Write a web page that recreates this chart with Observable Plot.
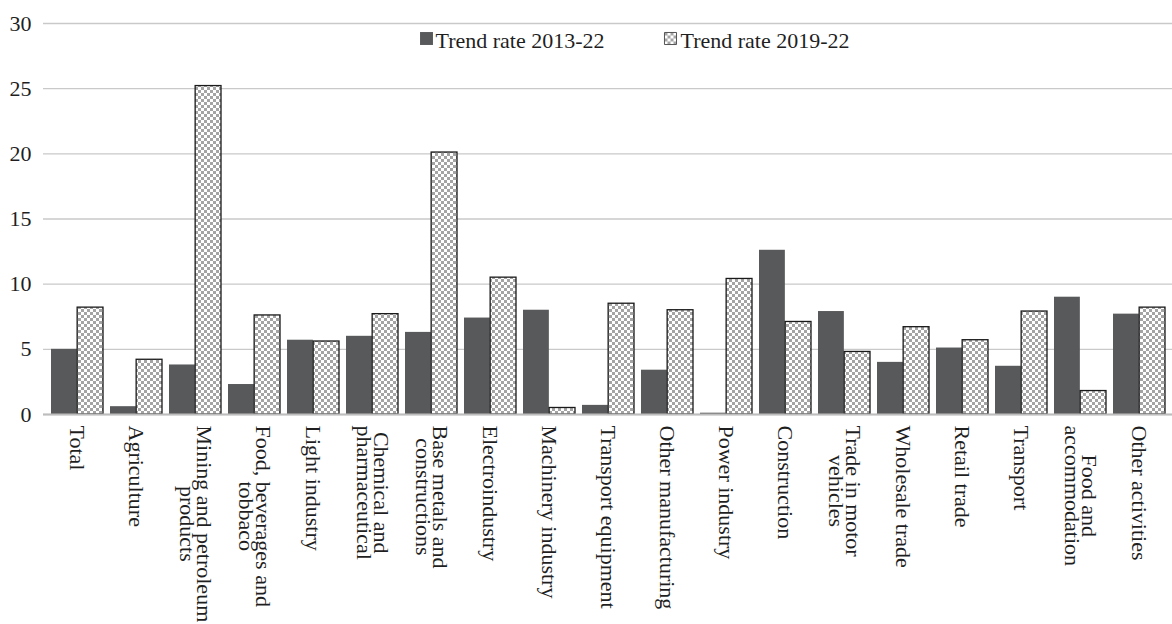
<!DOCTYPE html>
<html>
<head>
<meta charset="utf-8">
<script src="https://cdn.jsdelivr.net/npm/d3@7"></script>
<script src="https://cdn.jsdelivr.net/npm/@observablehq/plot@0.6"></script>
<style>
  html, body { margin: 0; padding: 0; background: #ffffff; }
  #chart { width: 1172px; height: 624px; }
</style>
</head>
<body>
<div id="chart"></div>
<script>
// Sectors, in display order
const categories = [
  "Total",
  "Agriculture",
  "Mining and petroleum\nproducts",
  "Food, beverages and\ntobbaco",
  "Light industry",
  "Chemical and\npharmaceutical",
  "Base metals and\nconstructions",
  "Electroindustry",
  "Machinery industry",
  "Transport equipment",
  "Other manufacturing",
  "Power industry",
  "Construction",
  "Trade in motor\nvehicles",
  "Wholesale trade",
  "Retail trade",
  "Transport",
  "Food and\naccommodation",
  "Other activities"
];

// Series names
const seriesNames = ["Trend rate 2013-22", "Trend rate 2019-22"];

// Trend rate 2013-22
const trend2013 = [5.0, 0.6, 3.8, 2.3, 5.7, 6.0, 6.3, 7.4, 8.0, 0.7, 3.4, 0.1, 12.6, 7.9, 4.0, 5.1, 3.7, 9.0, 7.7];

// Trend rate 2019-22
const trend2019 = [8.2, 4.2, 25.2, 7.6, 5.6, 7.7, 20.1, 10.5, 0.5, 8.5, 8.0, 10.4, 7.1, 4.8, 6.7, 5.7, 7.9, 1.8, 8.2];

// Y-axis ticks
const yTicks = [0, 5, 10, 15, 20, 25, 30];

const rows = categories.map((c, i) => ({category: c, a: trend2013[i], b: trend2019[i]}));

const W = 1172, H = 624;
const marginLeft = 43, marginRight = 0, marginTop = 23, marginBottom = 210;
const padInner = 0.12, padOuter = 0.06;
const step = (W - marginLeft - marginRight) / (categories.length - padInner + 2 * padOuter);
const half = step * (1 - padInner) / 2;

const fontFamily = "'Liberation Serif', 'DejaVu Serif', serif";
const labelSize = 22;
const lineSpacing = 0.8 * labelSize;
const labelGap = 11;

const darkFill = "#58595b";
const gridColor = "#c9c9c9";
const textColor = "#1f1f1f";

// Sector labels run downwards; wrapped lines are centred on the longest line
const ctx = document.createElement("canvas").getContext("2d");
ctx.font = `${labelSize}px ${fontFamily}`;
const labelMarks = [];
categories.forEach(c => {
  const lines = c.split("\n");
  const widths = lines.map(l => ctx.measureText(l).width);
  const maxW = Math.max(...widths);
  const n = lines.length;
  lines.forEach((line, j) => {
    labelMarks.push(Plot.text([{category: c, line}], {
      x: "category",
      y: () => 0,
      text: "line",
      rotate: 90,
      textAnchor: "start",
      lineAnchor: "middle",
      fontSize: labelSize,
      fill: textColor,
      dx: ((n - 1) / 2 - j) * lineSpacing,
      dy: labelGap + (maxW - widths[j]) / 2
    }));
  });
});

const plot = Plot.plot({
  width: W,
  height: H,
  marginLeft, marginRight, marginTop, marginBottom,
  style: {fontFamily, fontSize: "22px", color: textColor, background: "#ffffff"},
  x: {domain: categories, paddingInner: padInner, paddingOuter: padOuter, label: null, axis: null},
  y: {domain: [0, 30], label: null},
  marks: [
    Plot.gridY(yTicks, {stroke: gridColor, strokeOpacity: 1, strokeWidth: 1.4}),
    Plot.barY(rows, {x: "category", y: "a", fill: darkFill, insetLeft: 0, insetRight: half}),
    Plot.barY(rows, {x: "category", y: "b", fill: "url(#checker)", stroke: "#1a1a1a", strokeWidth: 1.3, insetLeft: half, insetRight: 0}),
    Plot.ruleY([0], {stroke: "#bdbdbd", strokeWidth: 1.8}),
    Plot.axisY({ticks: yTicks, tickSize: 0, tickPadding: 12, fontSize: 22, label: null}),
    ...labelMarks,
    // Legend inside the plot frame
    Plot.dot([seriesNames[0]], {frameAnchor: "top-left", dx: 383, dy: 15, symbol: "square", r: 7.3, fill: darkFill}),
    Plot.text([seriesNames[0]], {text: d => d, frameAnchor: "top-left", dx: 392, dy: 17, textAnchor: "start", lineAnchor: "middle", fontSize: 22, fill: textColor}),
    Plot.dot([seriesNames[1]], {frameAnchor: "top-left", dx: 627, dy: 15, symbol: "square", r: 6.8, fill: "url(#checker)", stroke: "#555555", strokeWidth: 1}),
    Plot.text([seriesNames[1]], {text: d => d, frameAnchor: "top-left", dx: 637, dy: 17, textAnchor: "start", lineAnchor: "middle", fontSize: 22, fill: textColor})
  ]
});

// Checkerboard fill for the 2019-22 series
const defs = d3.select(plot).insert("defs", ":first-child");
const pat = defs.append("pattern")
  .attr("id", "checker")
  .attr("patternUnits", "userSpaceOnUse")
  .attr("width", 6).attr("height", 6);
pat.append("rect").attr("width", 6).attr("height", 6).attr("fill", "#ffffff");
pat.append("rect").attr("x", 0).attr("y", 0).attr("width", 3).attr("height", 3).attr("fill", "#a4a4a4");
pat.append("rect").attr("x", 3).attr("y", 3).attr("width", 3).attr("height", 3).attr("fill", "#a4a4a4");

document.getElementById("chart").appendChild(plot);
</script>
</body>
</html>
